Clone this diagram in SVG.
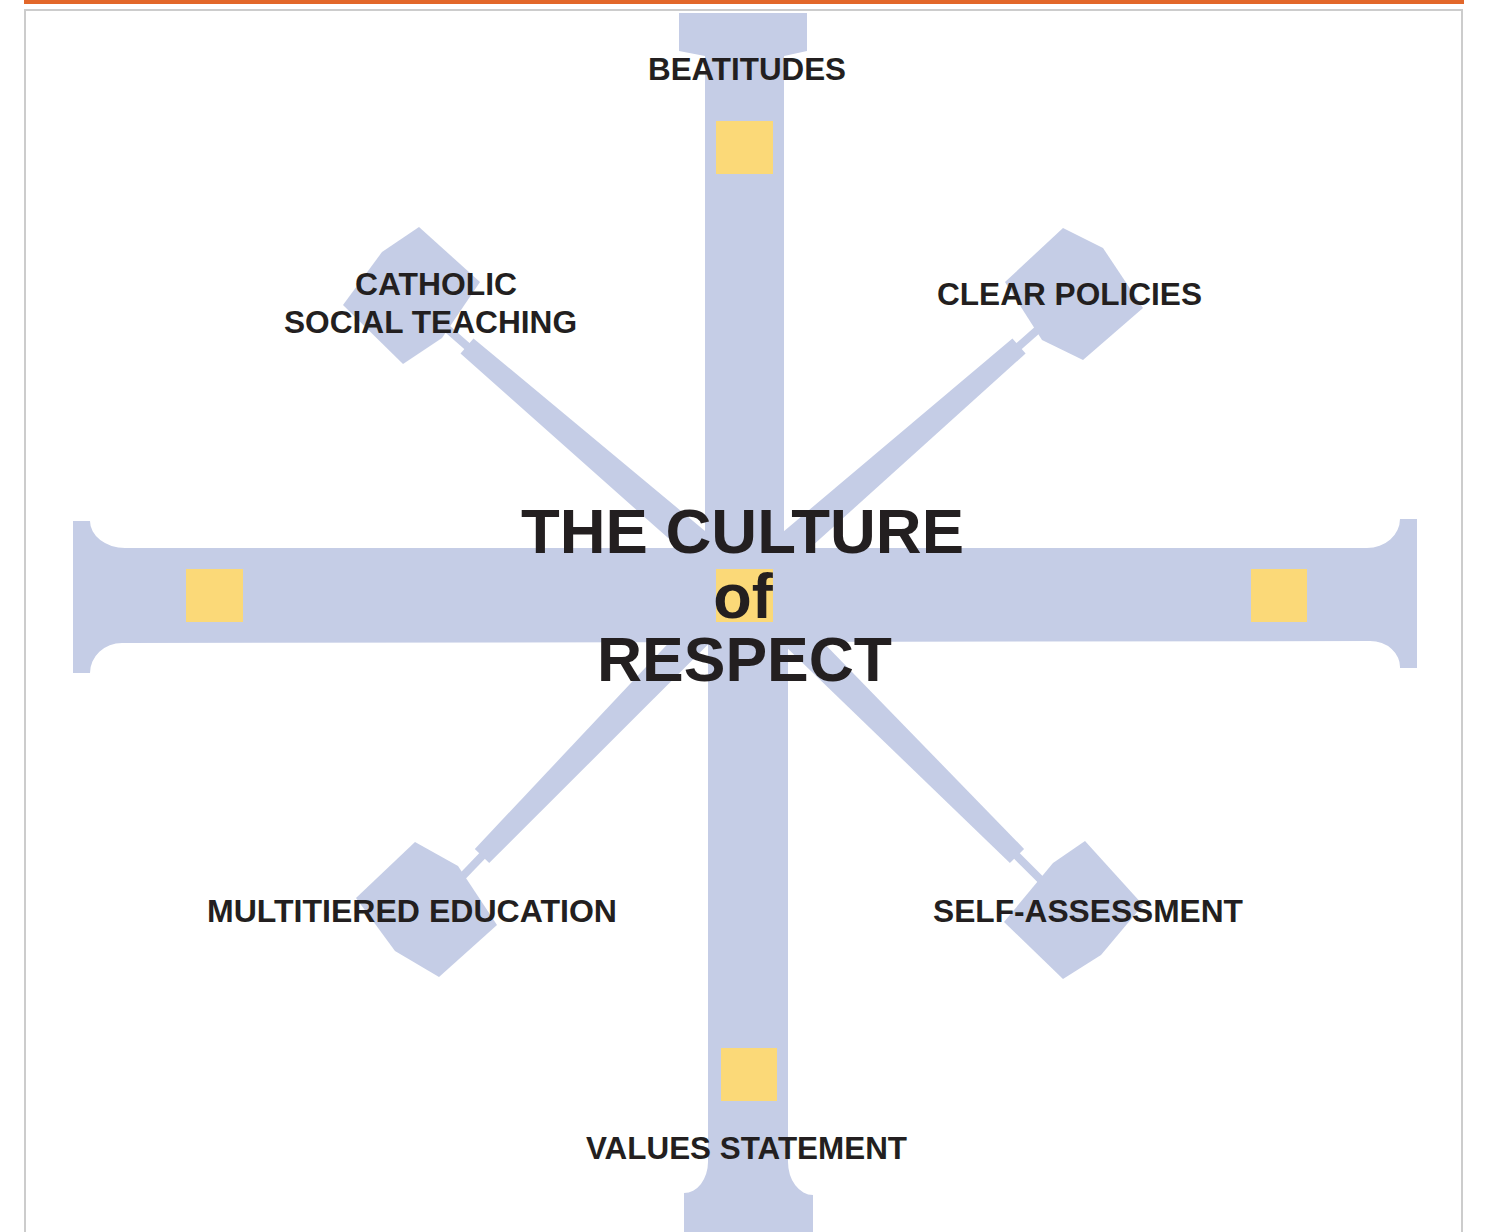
<svg xmlns="http://www.w3.org/2000/svg" width="1486" height="1232" viewBox="0 0 1486 1232">
  <style>
    .bar { fill: #c5cde6; }
    .neck { stroke: #c5cde6; stroke-width: 8; fill: none; }
    .hl { fill: #fbd978; }
    .lbl { font-family: "Liberation Sans", Arial, sans-serif; font-weight: bold; font-size: 31px; fill: #231f20; text-anchor: middle; }
    .title { font-family: "Liberation Sans", Arial, sans-serif; font-weight: bold; font-size: 63px; fill: #231f20; text-anchor: middle; }
  </style>
  <rect x="0" y="0" width="1486" height="1232" fill="#ffffff"/>
  <rect x="24" y="0" width="1440" height="4" fill="#e2672a"/>
  <rect x="25" y="10" width="1437" height="1240" fill="none" stroke="#cccccc" stroke-width="2"/>

  <g id="connectors">
    <polygon class="bar" points="755.4,572.9 473.5,338.4 460.5,353.6 734.6,597.1"/>
    <polygon class="bar" points="755.5,597.1 1025.6,353.5 1012.4,338.5 734.5,572.9"/>
    <polygon class="bar" points="733.5,573.9 474.8,849.0 489.2,863.0 756.5,596.1"/>
    <polygon class="bar" points="733.7,596.3 1009.9,863.1 1024.1,848.9 756.3,573.7"/>
    <line class="neck" x1="468" y1="347" x2="444" y2="326"/>
    <line class="neck" x1="1018" y1="347" x2="1043" y2="325"/>
    <line class="neck" x1="483" y1="855" x2="459" y2="880"/>
    <line class="neck" x1="1016" y1="855" x2="1044" y2="883"/>
    <path id="hbar" class="bar" d="M 73 521 L 90 521 A 35 27 0 0 0 125 548 L 1367 548 A 33 29 0 0 0 1400 519 L 1417 519 L 1417 668 L 1400 668 A 30 26 0 0 0 1370 641 L 122 643 A 32 30 0 0 0 90 673 L 73 673 Z"/>
    <path id="vbar" class="bar" d="M 679 13 L 807 13 L 807 51 L 784 56 L 784 600 L 788 600 L 788 1162 A 25 33 0 0 0 813 1195 L 813 1232 L 684 1232 L 684 1193 A 24 31 0 0 0 708 1162 L 708 600 L 705 600 L 705 56 L 679 51 Z"/>
  </g>

  <g id="node-beatitudes">
    <rect class="hl" x="716" y="121" width="57" height="53"/>
    <text class="lbl" x="747" y="80" textLength="198" lengthAdjust="spacingAndGlyphs">BEATITUDES</text>
  </g>
  <g id="node-left">
    <rect class="hl" x="186" y="569" width="57" height="53"/>
  </g>
  <g id="node-right">
    <rect class="hl" x="1251" y="569" width="56" height="53"/>
  </g>
  <g id="node-values">
    <rect class="hl" x="721" y="1048" width="56" height="53"/>
    <text class="lbl" x="746.5" y="1159" textLength="321" lengthAdjust="spacingAndGlyphs">VALUES STATEMENT</text>
  </g>
  <g id="node-catholic">
    <polygon class="bar" points="419,227 480,282 442,338 403,364 343,305 382,252"/>
    <text class="lbl" x="436" y="295" textLength="162" lengthAdjust="spacingAndGlyphs">CATHOLIC</text>
    <text class="lbl" x="430.5" y="333" textLength="293" lengthAdjust="spacingAndGlyphs">SOCIAL TEACHING</text>
  </g>
  <g id="node-policies">
    <polygon class="bar" points="1063,228 1103,248 1143,308 1083,360 1042,340 1005,282"/>
    <text class="lbl" x="1069.5" y="305" textLength="265" lengthAdjust="spacingAndGlyphs">CLEAR POLICIES</text>
  </g>
  <g id="node-multitiered">
    <polygon class="bar" points="415,842 458,866 497,925 439,977 395,951 356,898"/>
    <text class="lbl" x="412" y="922" textLength="410" lengthAdjust="spacingAndGlyphs">MULTITIERED EDUCATION</text>
  </g>
  <g id="node-self">
    <polygon class="bar" points="1085,841 1143,905 1101,955 1063,979 1004,922 1053,863"/>
    <text class="lbl" x="1088" y="922" textLength="310" lengthAdjust="spacingAndGlyphs">SELF-ASSESSMENT</text>
  </g>
  <g id="node-center">
    <rect class="hl" x="716" y="569" width="57" height="53"/>
    <text class="title" x="742.5" y="553" textLength="443" lengthAdjust="spacingAndGlyphs">THE CULTURE</text>
    <text class="title" x="743" y="618">of</text>
    <text class="title" x="744.5" y="681" textLength="295" lengthAdjust="spacingAndGlyphs">RESPECT</text>
  </g>
</svg>
